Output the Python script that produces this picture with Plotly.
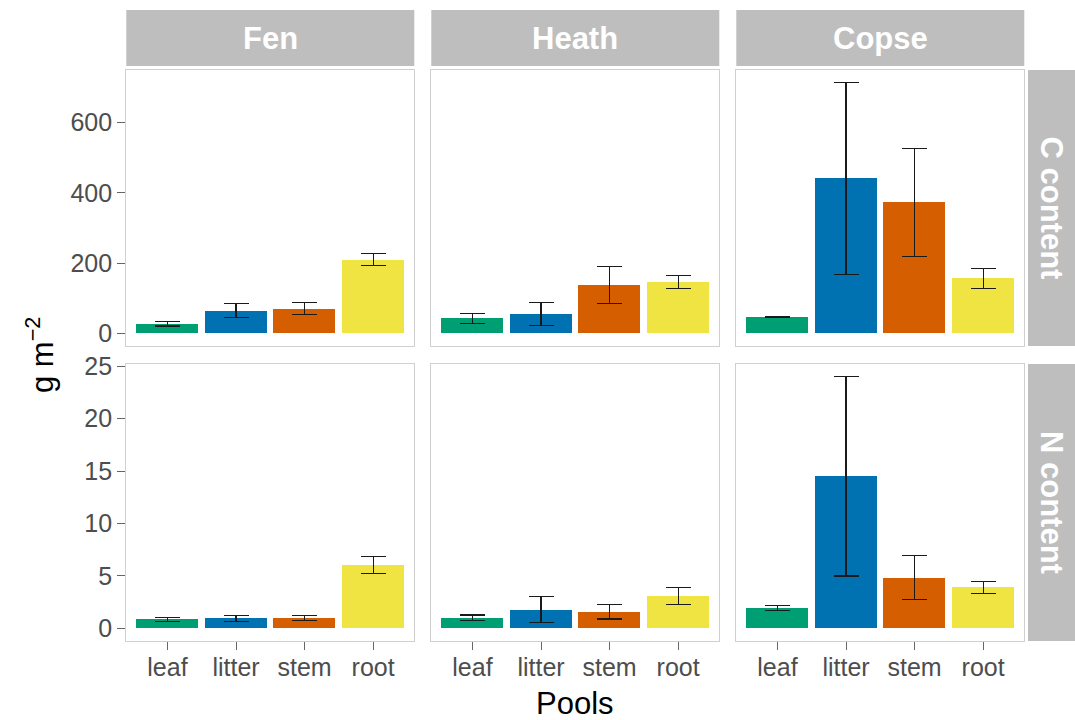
import plotly.graph_objects as go

pools = ["leaf", "litter", "stem", "root"]
sites = ["Fen", "Heath", "Copse"]
rows = ["C content", "N content"]
pool_colors = ["#009E73", "#0072B2", "#D55E00", "#F0E442"]

c_mean = {"Fen": [28, 65, 71, 210], "Heath": [43, 56, 138, 146], "Copse": [48, 441, 373, 157]}
c_se = {"Fen": [7, 20, 17, 17], "Heath": [14, 33, 53, 19], "Copse": [1, 273, 154, 28]}
n_mean = {"Fen": [0.85, 0.95, 1.02, 6.05], "Heath": [1.0, 1.78, 1.6, 3.08], "Copse": [1.95, 14.5, 4.85, 3.9]}
n_se = {"Fen": [0.22, 0.28, 0.24, 0.78], "Heath": [0.27, 1.25, 0.7, 0.8], "Copse": [0.27, 9.5, 2.1, 0.54]}

y_ticks = {0: [0, 200, 400, 600], 1: [0, 5, 10, 15, 20, 25]}

W, H = 1075, 720
col_px = [(126.3, 414.3), (431.3, 719.3), (736.3, 1024.3)]
row_px = [(70, 346), (364, 641)]

def px_x(p):
    return p / W

def px_y(p):
    return 1 - p / H

FONT = "Liberation Sans, Arial, Helvetica, sans-serif"
fig = go.Figure()
layout = {}

data_rows = [(c_mean, c_se), (n_mean, n_se)]
for r in range(2):
    means, ses = data_rows[r]
    top = max(m + s for site in sites for m, s in zip(means[site], ses[site]))
    pad = 0.05 * top
    yr = [-pad, top + pad]
    for c in range(3):
        idx = r * 3 + c + 1
        site = sites[c]
        xa = "x" if idx == 1 else f"x{idx}"
        ya = "y" if idx == 1 else f"y{idx}"
        fig.add_trace(go.Bar(
            x=pools, y=means[site], width=0.9,
            marker=dict(color=pool_colors, line=dict(width=0)),
            error_y=dict(type="data", array=ses[site], visible=True,
                         color="#1a1a1a", thickness=1.2, width=12.5),
            xaxis=xa, yaxis=ya, showlegend=False,
        ))
        xkey = "xaxis" if idx == 1 else f"xaxis{idx}"
        ykey = "yaxis" if idx == 1 else f"yaxis{idx}"
        layout[xkey] = dict(
            domain=[px_x(col_px[c][0]), px_x(col_px[c][1])],
            anchor=ya, type="category", range=[-0.6, 3.6],
            categoryorder="array", categoryarray=pools,
            showgrid=False, zeroline=False,
            showline=True, mirror=True, linecolor="#D0D0D0", linewidth=1.3,
            ticks="outside" if r == 1 else "", ticklen=8, tickcolor="#666666", tickwidth=1.2,
            showticklabels=(r == 1), ticklabelstandoff=-4,
            tickfont=dict(family=FONT, size=25, color="#4D4D4D"),
            fixedrange=True,
        )
        layout[ykey] = dict(
            domain=[px_y(row_px[r][1]), px_y(row_px[r][0])],
            anchor=xa, range=yr,
            tickvals=y_ticks[r],
            showgrid=False, zeroline=False,
            showline=True, mirror=True, linecolor="#D0D0D0", linewidth=1.3,
            ticks="outside" if c == 0 else "", ticklen=8, tickcolor="#666666", tickwidth=1.2,
            showticklabels=(c == 0),
            tickfont=dict(family=FONT, size=25, color="#4D4D4D"),
            fixedrange=True,
        )

shapes = []
annotations = []
strip_color = "#BEBEBE"
for c in range(3):
    x0, x1 = px_x(col_px[c][0]), px_x(col_px[c][1])
    shapes.append(dict(type="rect", xref="paper", yref="paper", x0=x0, x1=x1,
                       y0=px_y(66), y1=px_y(10), fillcolor=strip_color, line=dict(width=0), layer="below"))
    annotations.append(dict(xref="paper", yref="paper", x=(x0 + x1) / 2, y=px_y(38),
                            text=f"<b>{sites[c]}</b>", showarrow=False,
                            font=dict(family=FONT, size=31, color="white"),
                            xanchor="center", yanchor="middle"))
for r in range(2):
    y0, y1 = px_y(row_px[r][1]), px_y(row_px[r][0])
    shapes.append(dict(type="rect", xref="paper", yref="paper", x0=px_x(1028), x1=1.0,
                       y0=y0, y1=y1, fillcolor=strip_color, line=dict(width=0), layer="below"))
    annotations.append(dict(xref="paper", yref="paper", x=px_x(1051.5), y=(y0 + y1) / 2,
                            text=f"<b>{rows[r]}</b>", showarrow=False, textangle=90,
                            font=dict(family=FONT, size=31, color="white"),
                            xanchor="center", yanchor="middle"))

annotations.append(dict(xref="paper", yref="paper", x=px_x(575), y=px_y(703),
                        text="Pools", showarrow=False,
                        font=dict(family=FONT, size=31, color="black"),
                        xanchor="center", yanchor="middle"))
annotations.append(dict(xref="paper", yref="paper", x=px_x(40), y=px_y(355),
                        text="g m<sup>−2</sup>", showarrow=False, textangle=-90,
                        font=dict(family=FONT, size=31, color="black"),
                        xanchor="center", yanchor="middle"))

layout.update(dict(
    width=W, height=H,
    margin=dict(l=0, r=0, t=0, b=0, pad=0, autoexpand=False),
    paper_bgcolor="white", plot_bgcolor="white",
    shapes=shapes, annotations=annotations,
    bargap=0, showlegend=False,
    font=dict(family=FONT),
))
fig.update_layout(**layout)
fig.write_html("out.html")
